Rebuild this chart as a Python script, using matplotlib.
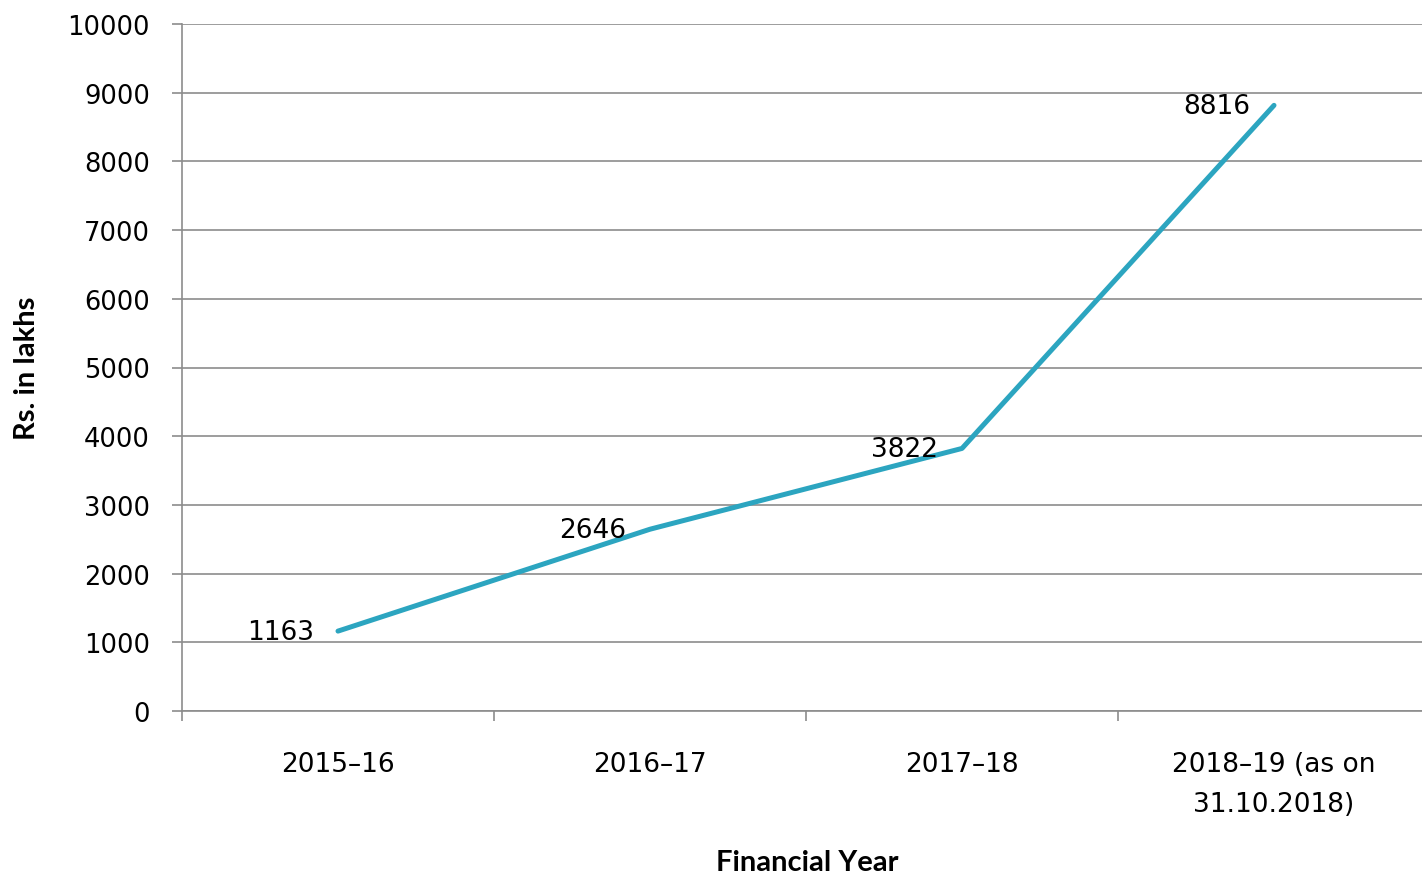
import numpy as np
import matplotlib
matplotlib.use('Agg')
import matplotlib.pyplot as plt

plt.rcParams['font.family'] = ['DejaVu Sans']

# données
years = ['2015–16', '2016–17', '2017–18', '2018–19 (as on\n31.10.2018)']
amounts = [1163, 2646, 3822, 8816]
yticks = list(range(0, 10001, 1000))

line_col = '#2CA5C0'
grid_col = '#8C8C8C'

fig = plt.figure(figsize=(14.22, 8.79), dpi=100)
ax = fig.add_axes([182 / 1422, 1 - 712 / 879, 1248 / 1422, 687 / 879])

x = np.arange(len(years)) + 0.5
ax.plot(x, amounts, color=line_col, lw=3.6, solid_capstyle='round', zorder=3)

for xi, v in zip(x, amounts):
    ax.annotate(str(v), (xi, v), xytext=(-24, -1), textcoords='offset pixels',
                ha='right', va='center', fontsize=19, color='black')

ax.set_xlim(0, len(years))
ax.set_ylim(0, 10000)
ax.set_yticks(yticks)
ax.set_yticklabels([str(t) for t in yticks])
ax.set_xticks(np.arange(len(years) + 1))
ax.set_xticklabels([])
ax.set_xticks(x, minor=True)
ax.set_xticklabels(years, minor=True, fontsize=19, linespacing=1.7)
ax.tick_params(axis='x', which='minor', length=0, pad=28.5)
ax.tick_params(axis='x', which='major', length=7, width=1.2, color=grid_col)
ax.tick_params(axis='y', length=7, width=1.2, color=grid_col, labelsize=18.5, pad=16)

ax.grid(axis='y', color=grid_col, lw=1.2)
ax.set_axisbelow(True)
for s in ['top', 'right']:
    ax.spines[s].set_visible(False)
for s in ['left', 'bottom']:
    ax.spines[s].set_color(grid_col)
    ax.spines[s].set_linewidth(1.2)

fig.text(807 / 1422, 1 - 863 / 879, 'Financial Year', ha='center', va='center',
         fontsize=21, fontweight='bold', family='Lato')
fig.text(27 / 1422, 1 - 368 / 879, 'Rs. in lakhs', ha='center', va='center',
         rotation=90, fontsize=21, fontweight='bold', family='Lato')

fig.savefig('out.png', dpi=100)
